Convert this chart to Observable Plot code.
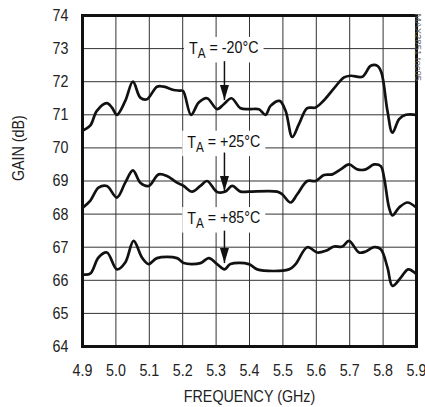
<!DOCTYPE html>
<html><head><meta charset="utf-8">
<script src="https://cdn.jsdelivr.net/npm/d3@7"></script>
<script src="https://cdn.jsdelivr.net/npm/@observablehq/plot@0.6"></script>
<style>body{margin:0;background:#fff}</style>
</head><body><div id="chart"></div>
<script>
// --- data ---
const freqM20 = [4.900,4.923,4.943,4.973,4.988,5.003,5.028,5.051,5.073,5.093,5.123,5.143,5.173,5.190,5.201,5.225,5.248,5.273,5.303,5.323,5.346,5.373,5.398,5.428,5.448,5.463,5.490,5.508,5.528,5.548,5.573,5.598,5.623,5.653,5.683,5.703,5.738,5.763,5.783,5.795,5.813,5.828,5.848,5.868,5.900];
const gainM20 = [70.52,70.67,71.12,71.35,71.22,71.00,71.42,72.00,71.52,71.47,71.85,71.85,71.75,71.73,71.72,71.00,71.37,71.50,71.17,71.32,71.50,71.20,71.17,71.17,71.00,71.27,71.42,71.12,70.33,70.72,71.20,71.22,71.44,71.80,72.13,72.18,72.15,72.48,72.48,72.28,71.12,70.46,70.87,71.00,71.00];

const freqP25 = [4.900,4.923,4.948,4.973,5.003,5.028,5.051,5.073,5.098,5.128,5.153,5.183,5.203,5.228,5.253,5.273,5.303,5.328,5.348,5.373,5.398,5.483,5.498,5.523,5.543,5.573,5.598,5.623,5.648,5.673,5.698,5.723,5.748,5.773,5.793,5.803,5.818,5.828,5.848,5.873,5.900];
const gainP25 = [68.19,68.40,68.80,68.85,68.50,68.95,69.32,68.95,68.85,69.20,69.15,68.95,68.85,68.68,68.85,69.00,68.67,68.68,68.85,68.68,68.68,68.68,68.60,68.35,68.60,69.00,69.00,69.18,69.20,69.35,69.50,69.35,69.35,69.50,69.45,69.10,68.19,67.96,68.20,68.35,68.19];

const freqP85 = [4.900,4.923,4.948,4.973,5.003,5.028,5.053,5.078,5.098,5.123,5.183,5.203,5.253,5.278,5.303,5.325,5.343,5.398,5.423,5.518,5.538,5.573,5.603,5.628,5.653,5.678,5.698,5.728,5.748,5.773,5.793,5.813,5.828,5.853,5.875,5.900];
const gainP85 = [66.18,66.20,66.69,66.84,66.33,66.54,67.19,66.69,66.49,66.67,66.67,66.52,66.52,66.67,66.49,66.33,66.49,66.49,66.33,66.33,66.49,67.00,66.84,66.89,67.02,67.02,67.19,66.84,66.87,67.00,66.94,66.39,65.83,66.08,66.33,66.18];

const labelTemps  = ["-20", "+25", "+85"];
const labelFreq   = [5.323, 5.323, 5.323];
const labelGain   = [73.00, 70.17, 67.86];
const arrowFreq   = [5.325, 5.325, 5.325];
const arrowFrom   = [72.62, 69.86, 67.50];
const arrowTip    = [71.45, 68.70, 66.52];

const xTicks = [4.9,5.0,5.1,5.2,5.3,5.4,5.5,5.6,5.7,5.8,5.9];
const yTicks = [64,65,66,67,68,69,70,71,72,73,74];
const xTitle = "FREQUENCY (GHz)";
const yTitle = "GAIN (dB)";
const noteText = "MAX2851 toc05";

// --- tables ---
const series = [
  ...freqM20.map((f,i)=>({t:"-20", f, g:gainM20[i]})),
  ...freqP25.map((f,i)=>({t:"+25", f, g:gainP25[i]})),
  ...freqP85.map((f,i)=>({t:"+85", f, g:gainP85[i]}))
];
const labels = labelTemps.map((t,i)=>({t, f:labelFreq[i], g:labelGain[i], af:arrowFreq[i], a1:arrowFrom[i], a2:arrowTip[i]}));

const headSymbol = { draw(ctx){ ctx.moveTo(0,0); ctx.lineTo(4.5,-15); ctx.lineTo(-4.5,-15); ctx.closePath(); } };

const FONT = "'Liberation Sans', Arial, sans-serif";

const chart = Plot.plot({
  width: 425, height: 407,
  marginTop: 15, marginRight: 9, marginBottom: 61, marginLeft: 82,
  style: {fontFamily: FONT, fontSize: "17px", color: "#222", background: "#fff", overflow: "visible"},
  x: {domain: [4.9, 5.9]},
  y: {domain: [64, 74]},
  marks: [
    Plot.gridX(xTicks, {stroke: "#333", strokeOpacity: 1, strokeWidth: 1}),
    Plot.gridY(yTicks, {stroke: "#333", strokeOpacity: 1, strokeWidth: 1}),
    Plot.axisX(xTicks, {tickFormat: d3.format(".1f"), tickSize: 0, tickPadding: 17, label: null, fontSize: 17, fill: "#222"}),
    Plot.axisY(yTicks, {tickFormat: d3.format("d"), tickSize: 0, tickPadding: 14, label: null, fontSize: 17, fill: "#222"}),
    Plot.text([xTitle], {frameAnchor: "bottom", dy: 55, fontSize: 17, fill: "#222"}),
    Plot.text([yTitle], {frameAnchor: "left", rotate: -90, dx: -64, fontSize: 17, fill: "#222"}),
    Plot.text(labels, {x: "f", y: "g", text: d => "TA = " + d.t + "°C", fill: "#111", fontSize: 17, ariaDescription: "temp-label"}),
    Plot.link(labels, {x1: "af", x2: "af", y1: "a1", y2: "a2", stroke: "#111", strokeWidth: 1.5}),
    Plot.dot(labels, {x: "af", y: "a2", symbol: headSymbol, fill: "#111", stroke: "none", r: 5}),
    Plot.line(series, {x: "f", y: "g", z: "t", stroke: "#111", strokeWidth: 2.7, curve: "catmull-rom"}),
    Plot.frame({stroke: "#111", strokeWidth: 3}),
    Plot.text([noteText], {frameAnchor: "top-right", rotate: 90, textAnchor: "start", dx: 5, dy: -2, fontSize: 9.5, fill: "#666", ariaDescription: "note"})
  ]
});
document.getElementById("chart").appendChild(chart);

// condensed look: squeeze every text horizontally around its own anchor (x/y attributes untouched)
const SQUEEZE = 0.84;
d3.select(chart).selectAll("text").each(function(){
  if (this.parentNode.getAttribute("aria-description") === "note") return;
  const xa = parseFloat(this.getAttribute("x"));
  const x0 = (isFinite(xa) && !/em/.test(this.getAttribute("x") || "")) ? xa : 0;
  const tr = this.getAttribute("transform") || "";
  this.setAttribute("transform", `${tr} translate(${x0},0) scale(${SQUEEZE},1) translate(${-x0},0)`.trim());
});

// subscript + white box behind the temperature labels
d3.select(chart).selectAll('g[aria-description="temp-label"] text').each(function(){
  const el = d3.select(this);
  const rest = this.textContent.slice(2);
  el.text(null);
  el.append("tspan").text("T");
  el.append("tspan").attr("dy", "0.3em").attr("font-size", "0.82em").text("A");
  el.append("tspan").attr("dy", "-0.3em").text(rest);
  const bb = this.getBBox();
  d3.select(this.parentNode).insert("rect", () => this)
    .attr("x", bb.x - 6).attr("y", bb.y - 1).attr("width", bb.width + 12).attr("height", bb.height + 2)
    .attr("fill", "#fff").attr("transform", this.getAttribute("transform"));
});
</script>
</body></html>
